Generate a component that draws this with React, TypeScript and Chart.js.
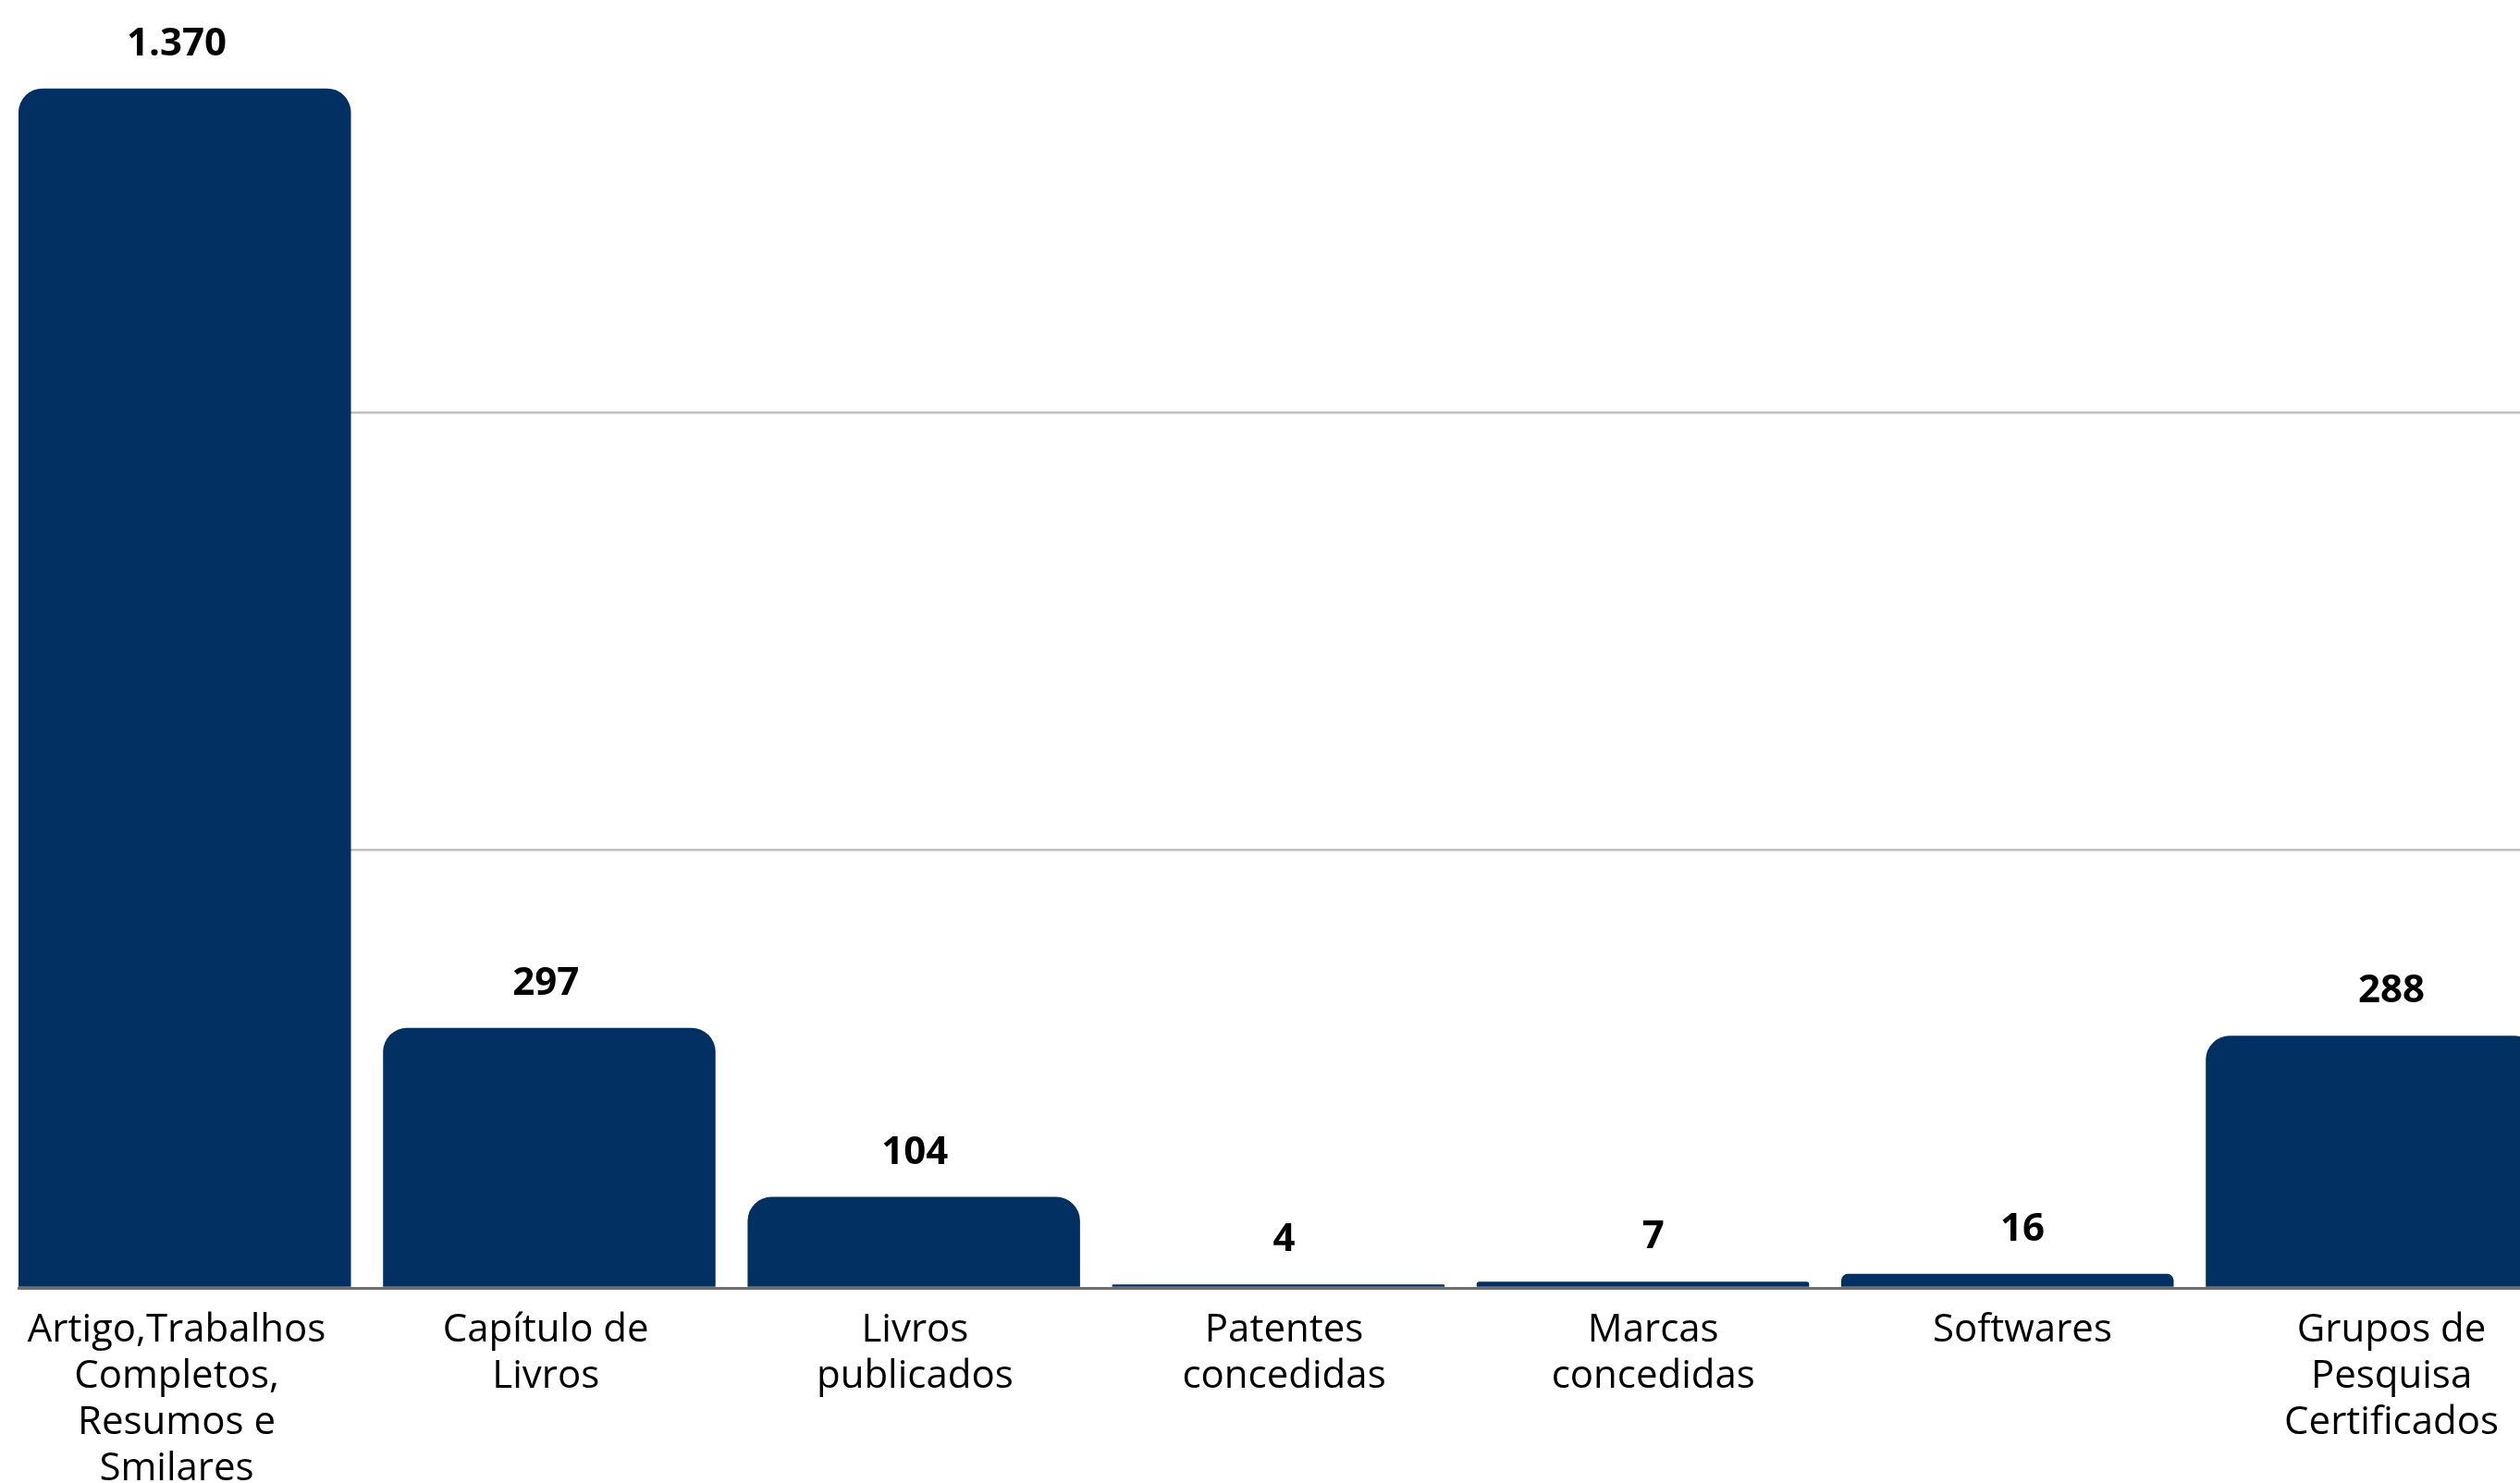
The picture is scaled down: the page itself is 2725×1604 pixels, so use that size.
import React, { useEffect, useRef } from "react";
import { Chart, registerables } from "chart.js";

Chart.register(...registerables);

const categories: string[][] = [
  ["Artigo,Trabalhos", "Completos,", "Resumos e", "Smilares"],
  ["Capítulo de", "Livros"],
  ["Livros", "publicados"],
  ["Patentes", "concedidas"],
  ["Marcas", "concedidas"],
  ["Softwares"],
  ["Grupos de", "Pesquisa", "Certificados"],
];
const values: number[] = [1370, 297, 104, 4, 7, 16, 288];
const gridTicks: number[] = [500, 1000];

const BAR_COLOR = "#023063";
const FONT = "'Open Sans', 'Noto Sans', sans-serif";

const fmt = (v: number) => String(v).replace(/\B(?=(\d{3})+(?!\d))/g, ".");

const valueLabels = {
  id: "valueLabels",
  afterDatasetsDraw(chart: any) {
    const meta = chart.getDatasetMeta(0);
    const xt = chart.scales.xt;
    const ctx = chart.ctx;
    ctx.save();
    ctx.font = `bold 42px ${FONT}`;
    ctx.fillStyle = "#000";
    ctx.textAlign = "center";
    ctx.textBaseline = "alphabetic";
    meta.data.forEach((el: any, i: number) => {
      const x = xt.getPixelForValue(i);
      const y = Math.min(el.y - 36, chart.chartArea.bottom - 36);
      ctx.fillText(fmt(values[i]), x, y);
    });
    ctx.restore();
  },
};

export default function App() {
  const ref = useRef<HTMLCanvasElement>(null);
  useEffect(() => {
    if (!ref.current) return;
    Chart.defaults.font.family = FONT;
    const chart = new Chart(ref.current, {
      type: "bar",
      data: {
        datasets: [
          {
            data: values.map((v, i) => ({ x: i, y: v })),
            backgroundColor: BAR_COLOR,
            borderWidth: 0,
            borderRadius: 26,
            borderSkipped: "start",
            barPercentage: 0.912,
            categoryPercentage: 1,
          },
        ],
      },
      options: {
        animation: false,
        responsive: false,
        devicePixelRatio: 1,
        layout: { padding: { left: 20, right: 0, top: 0, bottom: 0 } },
        plugins: { legend: { display: false }, tooltip: { enabled: false } },
        scales: {
          x: {
            type: "linear",
            position: "bottom",
            weight: 0,
            offset: false,
            min: -0.456,
            max: 6.406,
            grid: { display: false, drawTicks: false },
            border: { display: true, color: "#707070", width: 3, z: 1 },
            ticks: { display: false },
            afterBuildTicks: (s: any) => {
              s.ticks = categories.map((_, i) => ({ value: i }));
            },
            afterFit: (s: any) => {
              s.height = 0;
            },
          },
          xt: {
            type: "linear",
            axis: "x",
            position: "bottom",
            weight: 1,
            offset: false,
            min: -0.4284,
            max: 6.348,
            grid: { display: false, drawTicks: false },
            border: { display: false },
            afterBuildTicks: (s: any) => {
              s.ticks = categories.map((_, i) => ({ value: i }));
            },
            afterFit: (s: any) => {
              s.height = 211;
            },
            ticks: {
              autoSkip: false,
              maxRotation: 0,
              minRotation: 0,
              padding: 21,
              color: "#000",
              font: { family: FONT, size: 42, lineHeight: 50 / 42 },
              callback: (v: any) => categories[Math.round(Number(v))] ?? "",
            },
          } as any,
          y: {
            type: "linear",
            min: 0,
            max: 1471,
            grid: {
              display: true,
              drawTicks: false,
              color: (c: any) =>
                gridTicks.includes(c.tick?.value) ? "#c0c0c0" : "rgba(0,0,0,0)",
              lineWidth: 2.5,
            },
            border: { display: false },
            afterBuildTicks: (s: any) => {
              s.ticks = [0, ...gridTicks].map((v) => ({ value: v }));
            },
            afterFit: (s: any) => {
              s.width = 0;
            },
            ticks: { display: false },
          },
        },
      } as any,
      plugins: [valueLabels],
    });
    return () => chart.destroy();
  }, []);
  return (
    <div
      style={{
        position: "fixed",
        left: 0,
        top: 0,
        width: 2725,
        height: 1604,
        overflow: "hidden",
        background: "#fff",
      }}
    >
      <canvas ref={ref} width={2725} height={1604} style={{ width: 2725, height: 1604, display: "block" }} />
    </div>
  );
}
